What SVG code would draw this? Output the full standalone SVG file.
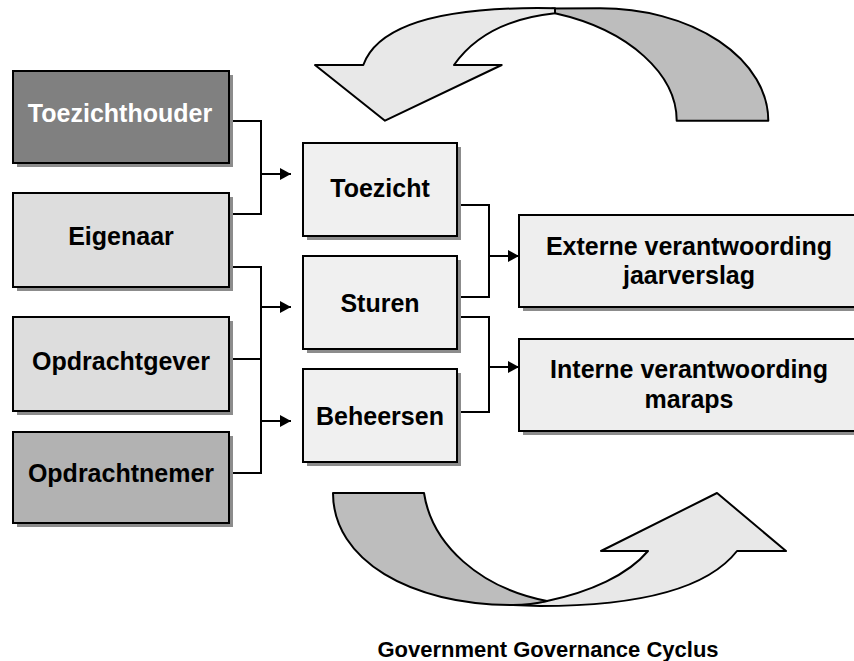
<svg xmlns="http://www.w3.org/2000/svg" width="854" height="661" viewBox="0 0 854 661">
  <defs>
    <marker id="ah" viewBox="0 0 11 12" refX="11" refY="6" markerWidth="11" markerHeight="12" markerUnits="userSpaceOnUse" orient="auto">
      <path d="M0,0 L11,6 L0,12 Z" fill="#000"/>
    </marker>
  </defs>
  <style>
    .box { stroke: #000; stroke-width: 2; }
    .shadow { fill: #8c8c8c; }
    .lbl { font-family: "Liberation Sans", Arial, sans-serif; font-weight: bold; font-size: 25px; text-anchor: middle; fill: #000; }
    .conn { fill: none; stroke: #000; stroke-width: 2; }
    .band { stroke: #000; stroke-width: 2; stroke-linejoin: round; }
  </style>
  <rect width="854" height="661" fill="#fff"/>

  <!-- cycle arrows -->
  <g id="arrow-top">
    <path class="band" fill="#bdbdbd" d="M552,8.5 L600,8.3 A168,112.4 0 0 1 768.3,120.7 L676.7,120.7 C676.7,75 630,30 555,13.3 Z"/>
    <path class="band" fill="#e8e8e8" d="M363.3,65 C378,25 440,6 555,8.3 L555,13.3 C510,18 475,35 454,65 L501.7,65 L385,120.7 L315,65 Z"/>
  </g>
  <g id="arrow-bottom">
    <path class="band" fill="#e8e8e8" d="M547,601 C590,592 628,575 648,551 L601,551 L717,493 L786,551 L737,551 C705,592 630,606 540,606 L513,605 Z"/>
    <path class="band" fill="#bdbdbd" d="M333,493 L424,493 C432,545 480,588 547,601 C535,604 525,605 513,605 C410,605 333,560 333,493 Z"/>
  </g>

  <!-- connectors -->
  <g id="connectors">
    <path class="conn" d="M229,121 H261 V214 H229"/>
    <path class="conn" d="M260,174 H291" marker-end="url(#ah)"/>
    <path class="conn" d="M229,267 H261 V473 H229"/>
    <path class="conn" d="M229,359 H261"/>
    <path class="conn" d="M260,307 H291" marker-end="url(#ah)"/>
    <path class="conn" d="M260,421 H291" marker-end="url(#ah)"/>
    <path class="conn" d="M457,205 H489 V297 H457"/>
    <path class="conn" d="M488,256 H519" marker-end="url(#ah)"/>
    <path class="conn" d="M457,317 H489 V412 H457"/>
    <path class="conn" d="M488,367 H519" marker-end="url(#ah)"/>
  </g>

  <!-- left column -->
  <g id="toezichthouder">
    <rect class="shadow" x="17" y="75" width="216" height="92"/>
    <rect class="box" x="13" y="71" width="216" height="92" fill="#808080"/>
    <text class="lbl" x="120" y="122" style="fill:#fff">Toezichthouder</text>
  </g>
  <g id="eigenaar">
    <rect class="shadow" x="17" y="197" width="216" height="94"/>
    <rect class="box" x="13" y="193" width="216" height="94" fill="#dddddd"/>
    <text class="lbl" x="121" y="245">Eigenaar</text>
  </g>
  <g id="opdrachtgever">
    <rect class="shadow" x="17" y="321" width="216" height="94"/>
    <rect class="box" x="13" y="317" width="216" height="94" fill="#dddddd"/>
    <text class="lbl" x="121" y="370">Opdrachtgever</text>
  </g>
  <g id="opdrachtnemer">
    <rect class="shadow" x="17" y="436" width="216" height="91"/>
    <rect class="box" x="13" y="432" width="216" height="91" fill="#b2b2b2"/>
    <text class="lbl" x="121" y="482">Opdrachtnemer</text>
  </g>

  <!-- middle column -->
  <g id="toezicht">
    <rect class="shadow" x="307" y="147" width="154" height="93"/>
    <rect class="box" x="303" y="143" width="154" height="93" fill="#f0f0f0"/>
    <text class="lbl" x="380" y="197">Toezicht</text>
  </g>
  <g id="sturen">
    <rect class="shadow" x="307" y="260" width="154" height="93"/>
    <rect class="box" x="303" y="256" width="154" height="93" fill="#f0f0f0"/>
    <text class="lbl" x="380" y="312">Sturen</text>
  </g>
  <g id="beheersen">
    <rect class="shadow" x="307" y="373" width="154" height="93"/>
    <rect class="box" x="303" y="369" width="154" height="93" fill="#f0f0f0"/>
    <text class="lbl" x="380" y="425">Beheersen</text>
  </g>

  <!-- right column -->
  <g id="externe">
    <rect class="shadow" x="523" y="219" width="345" height="92"/>
    <rect class="box" x="519" y="215" width="345" height="92" fill="#eeeeee"/>
    <text class="lbl" x="689" y="255">Externe verantwoording</text>
    <text class="lbl" x="689" y="284">jaarverslag</text>
  </g>
  <g id="interne">
    <rect class="shadow" x="523" y="343" width="345" height="92"/>
    <rect class="box" x="519" y="339" width="345" height="92" fill="#eeeeee"/>
    <text class="lbl" x="689" y="378">Interne verantwoording</text>
    <text class="lbl" x="689" y="408">maraps</text>
  </g>

  <text id="title" x="548" y="657" style="font-family:'Liberation Sans', Arial, sans-serif; font-weight:bold; font-size:22px; text-anchor:middle; fill:#000">Government Governance Cyclus</text>
</svg>
